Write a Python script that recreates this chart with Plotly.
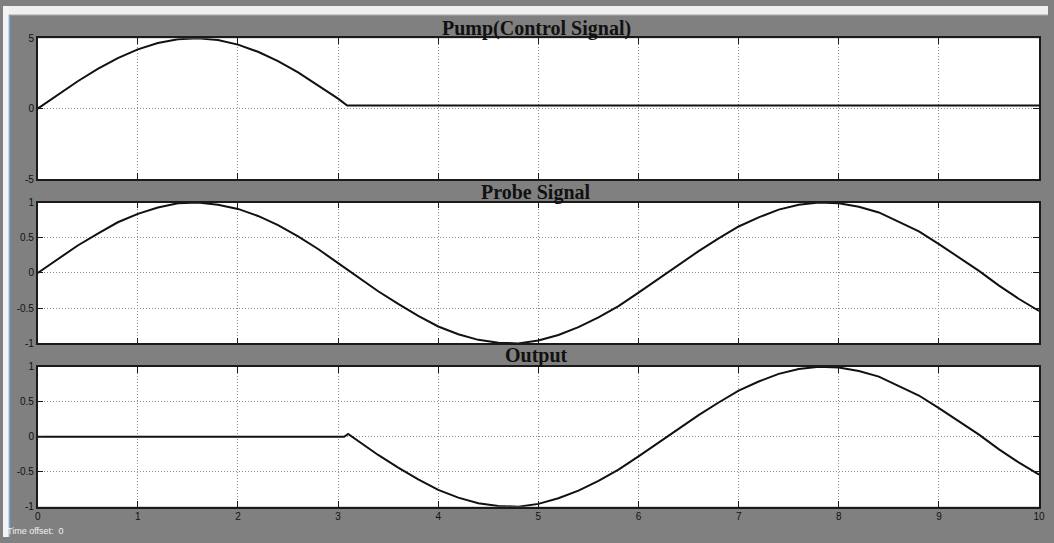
import plotly.graph_objects as go

# ---------------- data ----------------
pump_t = [0, 0.2, 0.4, 0.6, 0.8, 1.0, 1.2, 1.4, 1.6, 1.8, 2.0, 2.2, 2.4, 2.6, 2.8, 3.0, 3.09, 10.0]
pump_v = [0, 0.99, 1.95, 2.82, 3.59, 4.21, 4.66, 4.93, 5.00, 4.87, 4.55, 4.04, 3.38, 2.58, 1.67, 0.71, 0.23, 0.23]

probe_t = [0, 0.2, 0.4, 0.6, 0.8, 1.0, 1.2, 1.4, 1.6, 1.8, 2.0, 2.2, 2.4, 2.6, 2.8, 3.0,
           3.2, 3.4, 3.6, 3.8, 4.0, 4.2, 4.4, 4.6, 4.8, 5.0, 5.2, 5.4, 5.6, 5.8, 6.0,
           6.2, 6.4, 6.6, 6.8, 7.0, 7.2, 7.4, 7.6, 7.8, 8.0, 8.2, 8.4, 8.6, 8.8, 9.0,
           9.2, 9.4, 9.6, 9.8, 10.0]
probe_v = [0, 0.20, 0.39, 0.56, 0.72, 0.84, 0.93, 0.99, 1.00, 0.97, 0.91, 0.81, 0.68, 0.52, 0.34, 0.14,
           -0.06, -0.26, -0.44, -0.61, -0.76, -0.87, -0.95, -0.99, -1.00, -0.96, -0.88, -0.77, -0.63, -0.47, -0.28,
           -0.08, 0.12, 0.31, 0.49, 0.66, 0.79, 0.90, 0.97, 1.00, 0.99, 0.94, 0.86, 0.73, 0.59, 0.41,
           0.22, 0.03, -0.18, -0.37, -0.54]

output_t = [0, 3.06, 3.1, 3.2, 3.4, 3.6, 3.8, 4.0, 4.2, 4.4, 4.6, 4.8, 5.0, 5.2, 5.4, 5.6, 5.8, 6.0,
            6.2, 6.4, 6.6, 6.8, 7.0, 7.2, 7.4, 7.6, 7.8, 8.0, 8.2, 8.4, 8.6, 8.8, 9.0,
            9.2, 9.4, 9.6, 9.8, 10.0]
output_v = [0, 0, 0.04, -0.06, -0.26, -0.44, -0.61, -0.76, -0.87, -0.95, -0.99, -1.00, -0.96, -0.88, -0.77, -0.63, -0.47, -0.28,
            -0.08, 0.12, 0.31, 0.49, 0.66, 0.79, 0.90, 0.97, 1.00, 0.99, 0.94, 0.86, 0.73, 0.59, 0.41,
            0.22, 0.03, -0.18, -0.37, -0.54]

titles = ["Pump(Control Signal)", "Probe Signal", "Output"]
x_ticks = [0, 1, 2, 3, 4, 5, 6, 7, 8, 9, 10]
pump_yticks = [-5, 0, 5]
pump_yticklabels = ["-5", "0", "5"]
sig_yticks = [-1, -0.5, 0, 0.5, 1]
sig_yticklabels = ["-1", "-0.5", "0", "0.5", "1"]

# ---------------- figure ----------------
W, H = 1054, 543
x0, x1 = 35 / W, 1045 / W
doms = [(1 - 177 / H, 1 - 33 / H), (1 - 345 / H, 1 - 201 / H), (1 - 512 / H, 1 - 369 / H)]

fig = go.Figure()
series = [(pump_t, pump_v), (probe_t, probe_v), (output_t, output_v)]
for i, (t, v) in enumerate(series):
    sfx = "" if i == 0 else str(i + 1)
    fig.add_trace(go.Scatter(x=t, y=v, mode="lines", line=dict(color="#111111", width=2),
                             xaxis="x" + sfx, yaxis="y" + sfx, showlegend=False, hoverinfo="skip"))

axis_common = dict(showline=True, linecolor="#1a1a1a", linewidth=1.5, mirror="ticks",
                   ticks="inside", ticklen=6, tickwidth=1.2, tickcolor="#1a1a1a",
                   showgrid=True, gridcolor="#8c8c8c", griddash="1px,2px", gridwidth=1,
                   zeroline=False, tickfont=dict(family="Liberation Sans, Arial", size=10, color="#111111"))

layout = dict(autosize=True, margin=dict(l=0, r=0, t=0, b=0),
              paper_bgcolor="#808080", plot_bgcolor="#ffffff", showlegend=False)

for i in range(3):
    sfx = "" if i == 0 else str(i + 1)
    xa = dict(axis_common, domain=[x0, x1], range=[0, 10], tickvals=x_ticks,
              anchor="y" + sfx, showticklabels=(i == 2))
    if i == 0:
        ya = dict(axis_common, domain=list(doms[i]), range=[-5, 5], tickvals=pump_yticks,
                  ticktext=pump_yticklabels, anchor="x" + sfx)
    else:
        ya = dict(axis_common, domain=list(doms[i]), range=[-1, 1], tickvals=sig_yticks,
                  ticktext=sig_yticklabels, anchor="x" + sfx)
    layout["xaxis" + sfx] = xa
    layout["yaxis" + sfx] = ya

fig.update_layout(**layout)

title_y = [1 - 23 / H, 1 - 191 / H, 1 - 357 / H]
for i, tt in enumerate(titles):
    fig.add_annotation(text="<b>%s</b>" % tt, x=538 / W, y=title_y[i], xref="paper", yref="paper",
                       showarrow=False, xanchor="center", yanchor="middle",
                       font=dict(family="Liberation Serif, Times New Roman", size=20, color="#111111"))

fig.add_annotation(text="Time offset:  0", x=2 / W, y=1 - 537 / H, xref="paper", yref="paper",
                   showarrow=False, xanchor="left", yanchor="middle",
                   font=dict(family="Liberation Sans, Arial", size=9, color="#f2f2f2"))

# window chrome: top light strip and left edge
fig.add_shape(type="rect", xref="paper", yref="paper", x0=0, x1=1, y0=1 - 9 / H, y1=1,
              fillcolor="#f0f0f0", line=dict(width=0), layer="above")
fig.add_shape(type="line", xref="paper", yref="paper", x0=0, x1=1, y0=1 - 9 / H, y1=1 - 9 / H,
              line=dict(color="#c8c8c8", width=1), layer="above")
fig.add_shape(type="rect", xref="paper", yref="paper", x0=0, x1=6 / W, y0=0, y1=1,
              fillcolor="#f4f4f4", line=dict(width=0), layer="above")
fig.add_shape(type="line", xref="paper", yref="paper", x0=6.5 / W, x1=6.5 / W, y0=0, y1=1 - 9 / H,
              line=dict(color="#7aa6dc", width=1.5), layer="above")

fig.write_html("out.html", config={"displayModeBar": False, "responsive": True},
               default_width="100vw", default_height="100vh",
               post_script="document.body.style.margin='0';document.documentElement.style.overflow='hidden';"
                           "document.body.style.overflow='hidden';")
